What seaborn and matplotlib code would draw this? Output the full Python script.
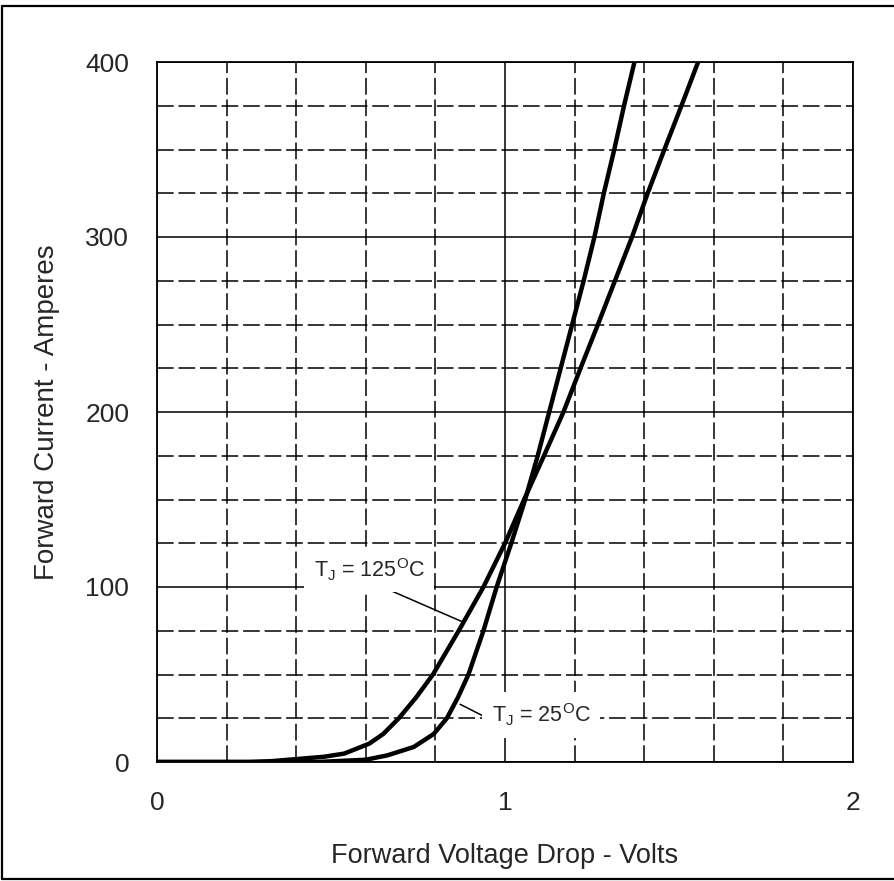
import pandas as pd
import matplotlib
matplotlib.use("Agg")
import matplotlib.pyplot as plt
import seaborn as sns
from matplotlib.lines import Line2D
from matplotlib.ticker import MultipleLocator

# forward voltage (V) / current (A)
volts_25 = [0.0, 0.46, 0.60, 0.662, 0.738, 0.795, 0.833, 0.865, 0.895, 0.938, 0.976,
            1.018, 1.058, 1.094, 1.127, 1.160, 1.193, 1.226, 1.257, 1.284, 1.314, 1.342, 1.372]
amps_25 = [0, 0, 1.3, 3.8, 8.6, 16, 25, 37, 50, 75, 100,
           125, 150, 175, 200, 225, 250, 275, 300, 325, 350, 375, 400]

volts_125 = [0.0, 0.265, 0.33, 0.414, 0.48, 0.538, 0.61, 0.65, 0.695, 0.745, 0.793, 0.867, 0.938,
             1.0, 1.055, 1.112, 1.168, 1.217, 1.267, 1.316, 1.365, 1.41, 1.458, 1.507, 1.555]
amps_125 = [0, 0, 0.5, 1.9, 3.0, 4.8, 10.5, 16, 25, 37, 50, 75, 100,
            125, 150, 175, 200, 225, 250, 275, 300, 325, 350, 375, 400]

label_125 = "T$_\\mathregular{J}$ = 125$^\\mathregular{O}$C"
label_25 = "T$_\\mathregular{J}$ = 25$^\\mathregular{O}$C"

df = pd.concat([
    pd.DataFrame({"volts": volts_25, "amps": amps_25, "tj": "25"}),
    pd.DataFrame({"volts": volts_125, "amps": amps_125, "tj": "125"}),
])

sns.set_style("white")
plt.rcParams['font.family'] = ['Liberation Sans', 'DejaVu Sans']
plt.rcParams['mathtext.fontset'] = 'custom'
plt.rcParams['mathtext.rm'] = 'Liberation Sans'
plt.rcParams['lines.scale_dashes'] = False

fig = plt.figure(figsize=(8.94, 8.81), dpi=100)
ax = fig.add_axes([157 / 894, 119 / 881, 696 / 894, 700 / 881])

sns.lineplot(data=df, x="volts", y="amps", hue="tj", palette=["black", "black"],
             sort=False, estimator=None, linewidth=3.2, legend=False, ax=ax, zorder=3)

ax.set_xlim(0, 2)
ax.set_ylim(0, 400)
ax.xaxis.set_major_locator(MultipleLocator(1))
ax.xaxis.set_minor_locator(MultipleLocator(0.2))
ax.yaxis.set_major_locator(MultipleLocator(100))
ax.yaxis.set_minor_locator(MultipleLocator(25))
ax.set_axisbelow(True)
ax.grid(which='major', color='black', lw=1.1, ls='-')
ax.grid(which='minor', color='black', lw=1.1, ls=(0, (12, 3.5)))
ax.tick_params(which='minor', length=0)
ax.tick_params(axis='x', which='major', direction='out', length=9, width=1.1,
               color='black', labelsize=19, pad=12)
ax.tick_params(axis='y', which='major', direction='out', length=11, width=1.1,
               color='black', labelsize=19, pad=9)
for s in ax.spines.values():
    s.set_color('black')
    s.set_linewidth(1.3)

ax.set_xlabel("Forward Voltage Drop - Volts", fontsize=19.5, labelpad=20)
ax.set_ylabel("Forward Current - Amperes", fontsize=20, labelpad=18)

# curve labels with leader lines
ax.plot([0.641, 0.879], [100.6, 80], color='black', lw=1.1, zorder=4)
ax.plot([0.943, 0.871], [25.7, 33], color='black', lw=1.1, zorder=4)
bbox = dict(facecolor='white', edgecolor='none', pad=7)
ax.text(0.61, 110, label_125, ha='center', va='center', fontsize=15.5, bbox=bbox, zorder=5)
ax.text(1.104, 27, label_25, ha='center', va='center', fontsize=15.5, bbox=bbox, zorder=5)

# frame around the figure
for xs, ys in [([2 / 894, 2 / 894], [2 / 881, 875 / 881]),
               ([2 / 894, 1.0], [875 / 881, 875 / 881]),
               ([2 / 894, 1.0], [2 / 881, 2 / 881])]:
    fig.add_artist(Line2D(xs, ys, transform=fig.transFigure, color='black', lw=1.6))

fig.savefig("out.png", dpi=100)
